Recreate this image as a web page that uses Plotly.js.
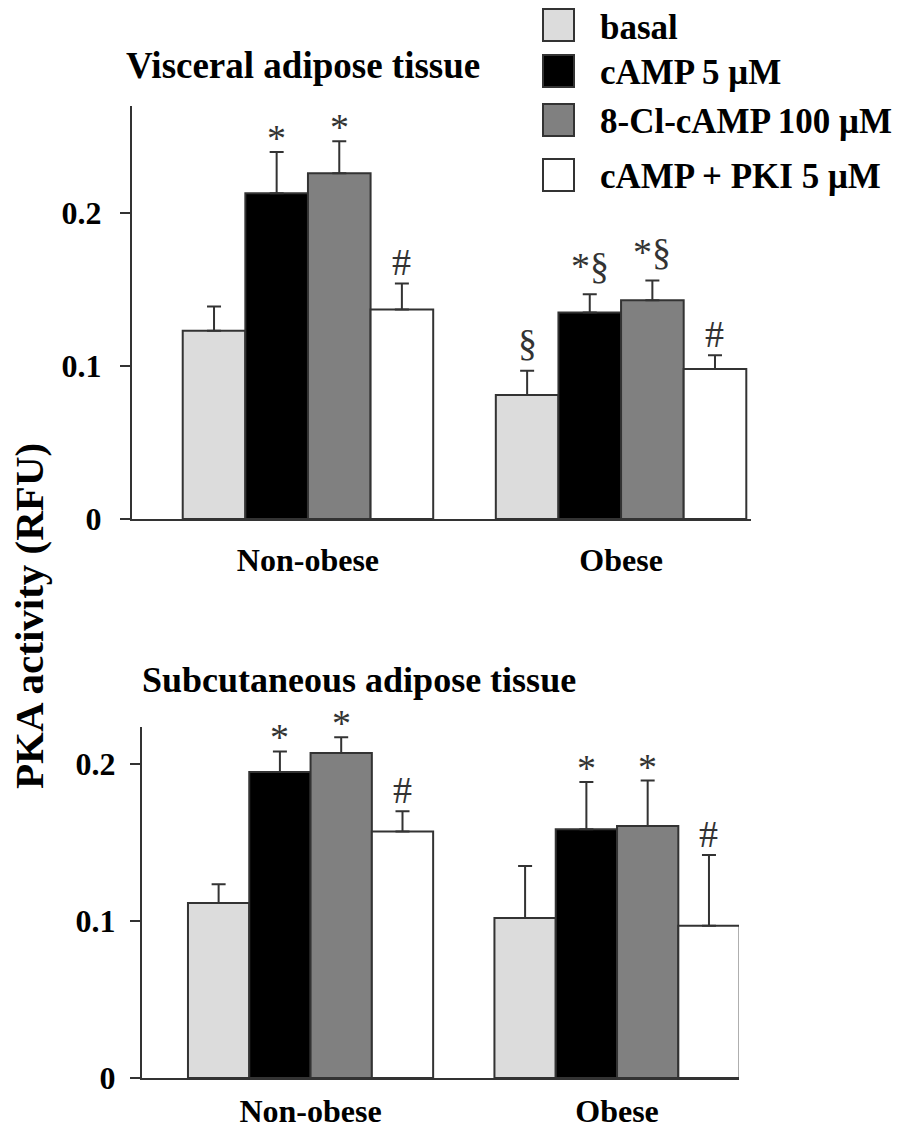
<!DOCTYPE html>
<html>
<head>
<meta charset="utf-8">
<script src="https://cdn.plot.ly/plotly-3.0.1.min.js"></script>
<style>html,body{margin:0;padding:0;background:#fff;}#chart{width:922px;height:1134px;}</style>
</head>
<body>
<div id="chart"></div>
<script>
// ---- data ----
const groups = ['Non-obese', 'Obese'];
const seriesNames = ['basal', 'cAMP 5 μM', '8-Cl-cAMP 100 μM', 'cAMP + PKI 5 μM'];
const seriesColors = ['#dcdcdc', '#000000', '#808080', '#ffffff'];

// Visceral adipose tissue
const visceralBasal = [0.123, 0.081];
const visceralCamp = [0.213, 0.135];
const visceralClCamp = [0.226, 0.143];
const visceralPki = [0.137, 0.098];
const visceralBasalErr = [0.016, 0.016];
const visceralCampErr = [0.027, 0.012];
const visceralClCampErr = [0.021, 0.013];
const visceralPkiErr = [0.017, 0.009];
const visceralSig = [['', '§'], ['*', '*§'], ['*', '*§'], ['#', '#']];

// Subcutaneous adipose tissue
const subcutBasal = [0.1115, 0.102];
const subcutCamp = [0.195, 0.1585];
const subcutClCamp = [0.207, 0.1605];
const subcutPki = [0.157, 0.097];
const subcutBasalErr = [0.012, 0.033];
const subcutCampErr = [0.013, 0.030];
const subcutClCampErr = [0.010, 0.029];
const subcutPkiErr = [0.013, 0.045];
const subcutSig = [['', ''], ['*', '*'], ['*', '*'], ['#', '#']];

const yTickVals = [0, 0.1, 0.2];
const yTickText = ['0', '0.1', '0.2'];
const panelTitles = ['Visceral adipose tissue', 'Subcutaneous adipose tissue'];
const yTitle = 'PKA activity (RFU)';

// ---- build ----
const W = 922, H = 1134;
const serif = '"Liberation Serif", "Times New Roman", Times, serif';
const BARGAP = 0.2;
const px = v => v / W;
const py = v => 1 - v / H;
const sigShift = {'*': -9, '#': -2, '§': 5, '*§': 5};

const panels = [
  {vals: [visceralBasal, visceralCamp, visceralClCamp, visceralPki],
   errs: [visceralBasalErr, visceralCampErr, visceralClCampErr, visceralPkiErr],
   sig: visceralSig, xa: 'x', ya: 'y'},
  {vals: [subcutBasal, subcutCamp, subcutClCamp, subcutPki],
   errs: [subcutBasalErr, subcutCampErr, subcutClCampErr, subcutPkiErr],
   sig: subcutSig, xa: 'x2', ya: 'y2'}
];

const traces = [];
const annotations = [];
panels.forEach(p => {
  seriesNames.forEach((name, i) => {
    traces.push({
      type: 'bar', x: groups, y: p.vals[i], name: name,
      xaxis: p.xa, yaxis: p.ya, showlegend: false, hoverinfo: 'skip',
      marker: {color: seriesColors[i], line: {color: '#333', width: 2}},
      error_y: {type: 'data', symmetric: false, array: p.errs[i],
                arrayminus: p.errs[i].map(() => 0), color: '#333', thickness: 2, width: 7}
    });
    const w = (1 - BARGAP) / seriesNames.length;
    const off = -(1 - BARGAP) / 2 + w * (i + 0.5);
    groups.forEach((g, j) => {
      const t = p.sig[i][j];
      if (!t) return;
      annotations.push({
        xref: p.xa, yref: p.ya, x: j + off, y: p.vals[i][j] + p.errs[i][j],
        text: t, showarrow: false, xanchor: 'center', yanchor: 'bottom', yshift: sigShift[t],
        font: {family: serif, size: 38, color: '#333'}
      });
    });
  });
});

// panel titles
annotations.push({xref: 'paper', yref: 'paper', x: px(124), y: py(66), xanchor: 'left', yanchor: 'middle',
  text: panelTitles[0], showarrow: false, font: {family: serif, size: 37, weight: 'bold', color: '#000'}});
annotations.push({xref: 'paper', yref: 'paper', x: px(140), y: py(680), xanchor: 'left', yanchor: 'middle',
  text: panelTitles[1], showarrow: false, font: {family: serif, size: 36, weight: 'bold', color: '#000'}});
// y title
annotations.push({xref: 'paper', yref: 'paper', x: px(29), y: py(616), xanchor: 'center', yanchor: 'middle',
  textangle: -90, text: yTitle, showarrow: false, font: {family: serif, size: 41, weight: 'bold', color: '#000'}});

// custom legend
const legendRows = [25, 71, 120, 175];
const shapes = [];
seriesNames.forEach((name, i) => {
  const cy = legendRows[i];
  shapes.push({type: 'rect', xref: 'paper', yref: 'paper', x0: px(543), x1: px(574), y0: py(cy + 16), y1: py(cy - 16),
    fillcolor: seriesColors[i], line: {color: '#333', width: 2}});
  annotations.push({xref: 'paper', yref: 'paper', x: px(598), y: py(cy + 2), xanchor: 'left', yanchor: 'middle',
    text: name, showarrow: false, font: {family: serif, size: 35, weight: 'bold', color: '#000'}});
});

const tickFont = {family: serif, size: 32, weight: 'bold', color: '#000'};
const xBase = {type: 'category', showline: true, linecolor: '#333', linewidth: 2, ticks: '',
  showgrid: false, zeroline: false, tickfont: tickFont, automargin: false, fixedrange: true};
const yBase = {showline: true, linecolor: '#333', linewidth: 2, ticks: 'outside', ticklen: 10, tickwidth: 1.5,
  tickcolor: '#333', tickvals: yTickVals, ticktext: yTickText, showgrid: false, zeroline: false,
  tickfont: tickFont, automargin: false, fixedrange: true};

const layout = {
  width: W, height: H, margin: {l: 0, r: 0, t: 0, b: 0},
  paper_bgcolor: '#fff', plot_bgcolor: '#fff', showlegend: false,
  barmode: 'group', bargap: BARGAP, bargroupgap: 0,
  xaxis: Object.assign({}, xBase, {domain: [px(132), px(751)], range: [-0.562, 1.415], anchor: 'y', ticklabelstandoff: 12}),
  yaxis: Object.assign({}, yBase, {domain: [py(519), py(106)], range: [0, 0.27], anchor: 'x', ticklabelstandoff: 12}),
  xaxis2: Object.assign({}, xBase, {domain: [px(142), px(739)], range: [-0.55, 1.398], anchor: 'y2', ticklabelstandoff: 4}),
  yaxis2: Object.assign({}, yBase, {domain: [py(1078), py(727)], range: [0, 0.2236], anchor: 'x2', ticklabelstandoff: 8}),
  annotations: annotations, shapes: shapes
};

Plotly.newPlot('chart', traces, layout, {staticPlot: true, displayModeBar: false});
</script>
</body>
</html>
